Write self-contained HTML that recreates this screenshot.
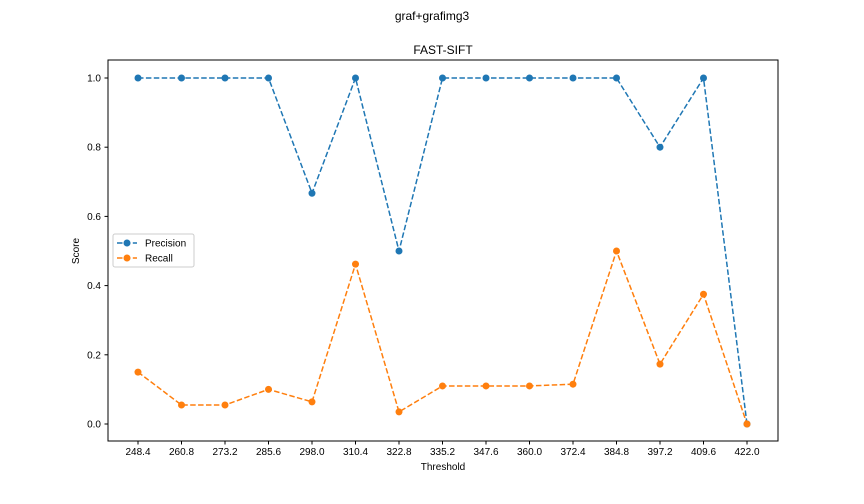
<!DOCTYPE html>
<html><head><meta charset="utf-8"><style>
body{margin:0;background:#fff;}
svg{display:block;font-family:"Liberation Sans","DejaVu Sans",sans-serif;}
</style></head><body>
<svg id="chart" width="864" height="504">
<text x="432" y="20" font-size="12" text-anchor="middle">graf+grafimg3</text>
<text x="443" y="54" font-size="12" text-anchor="middle">FAST-SIFT</text>
<rect x="108" y="60" width="670" height="381" fill="none" stroke="#000" stroke-width="1"/>
<g id="axes"></g>
<g id="series"></g>
<text x="443" y="470" font-size="10" text-anchor="middle">Threshold</text>
<text x="79" y="251" font-size="10" text-anchor="middle" transform="rotate(-90 79 251)">Score</text>
<g>
<rect x="113" y="234" width="81" height="33" fill="#fff" stroke="#ccc" rx="2"/>
<g>
<line x1="117" y1="243" x2="137" y2="243" stroke="#1f77b4" stroke-width="1.5" stroke-dasharray="5.5,2.4"/>
<circle cx="127" cy="243" r="3.5" fill="#1f77b4"/>
<text x="145" y="246.5" font-size="10">Precision</text></g>
<g>
<line x1="117" y1="258" x2="137" y2="258" stroke="#ff7f0e" stroke-width="1.5" stroke-dasharray="5.5,2.4"/>
<circle cx="127" cy="258" r="3.5" fill="#ff7f0e"/>
<text x="145" y="261.5" font-size="10">Recall</text></g>
</g>
</svg>
<script>
const categories=["248.4","260.8","273.2","285.6","298.0","310.4","322.8","335.2","347.6","360.0","372.4","384.8","397.2","409.6","422.0"];
const precision=[1,1,1,1,0.667,1,0.5,1,1,1,1,1,0.8,1,0];
const recall=[0.15,0.055,0.055,0.1,0.064,0.462,0.035,0.11,0.11,0.11,0.115,0.5,0.173,0.375,0];
const yTicks=["0.0","0.2","0.4","0.6","0.8","1.0"];
const NS="http://www.w3.org/2000/svg";
const xs=i=>138+i*(747-138)/(categories.length-1);
const ys=v=>424-v*346;
const ax=document.getElementById('axes'),se=document.getElementById('series');
function mk(t,a,p){const e=document.createElementNS(NS,t);for(const k in a)e.setAttribute(k,a[k]);p.appendChild(e);return e;}
categories.forEach((c,i)=>{
 const g=mk('g',{},ax);
 
 
 mk('line',{x1:xs(i),x2:xs(i),y1:441,y2:444.5,stroke:'#000'},g);
 const t=mk('text',{x:xs(i),y:455,'font-size':10,'text-anchor':'middle'},g);t.textContent=c;
});
yTicks.forEach(s=>{
 const v=parseFloat(s);
 const g=mk('g',{},ax);
 
 
 mk('line',{x1:104.5,x2:108,y1:ys(v),y2:ys(v),stroke:'#000'},g);
 const t=mk('text',{x:101,y:ys(v)+3.5,'font-size':10,'text-anchor':'end'},g);t.textContent=s;
});
function draw(vals,col,name){
 const g=mk('g',{},se);
 
 
 const l=mk('polyline',{points:vals.map((v,i)=>xs(i)+','+ys(v)).join(' '),fill:'none',stroke:col,'stroke-width':1.5,'stroke-dasharray':'5.5,2.4'},g);
 
 
 vals.forEach((v,i)=>{const c=mk('circle',{cx:xs(i),cy:ys(v),r:3.5,fill:col},g);
  
  });
}
draw(precision,'#1f77b4','precision');
draw(recall,'#ff7f0e','recall');
</script>
</body></html>
